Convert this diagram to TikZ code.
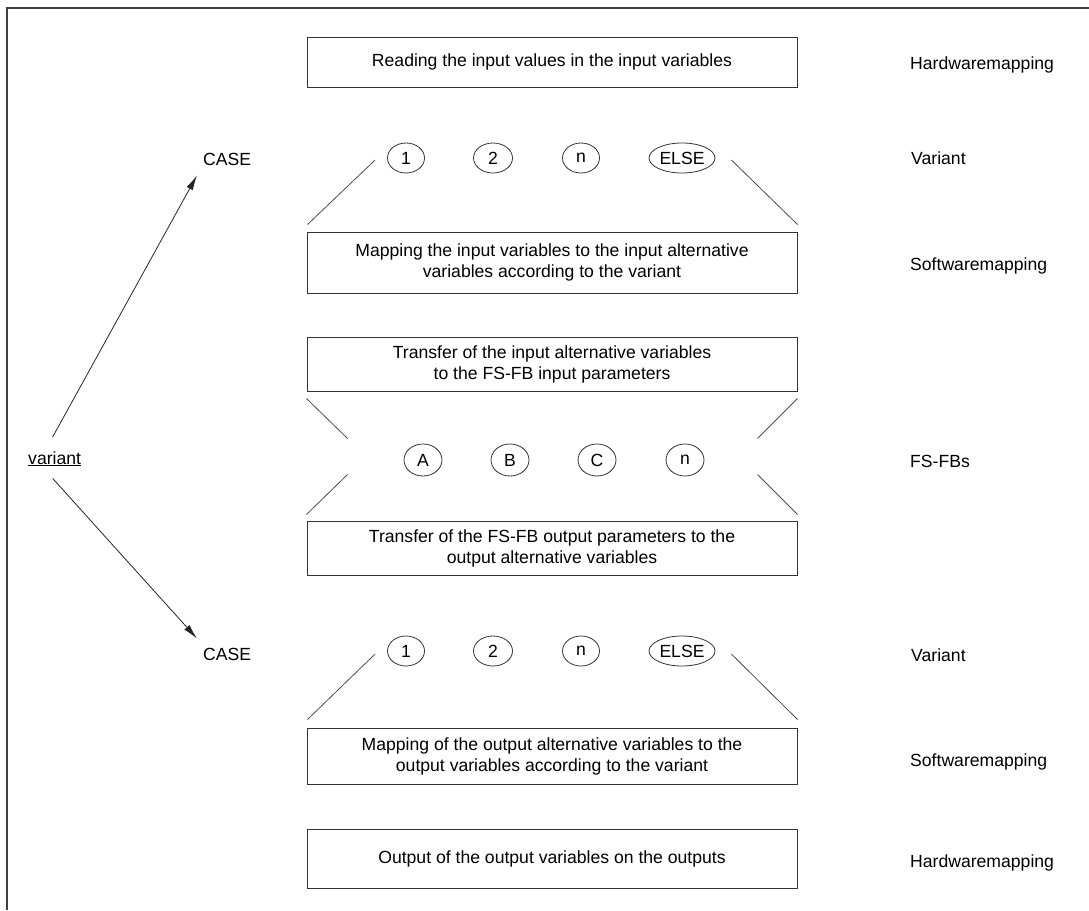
\documentclass[tikz,border=0pt]{standalone}
\usepackage{fontspec}
\setmainfont{Liberation Sans}
\usetikzlibrary{shapes.geometric,arrows.meta}

\begin{document}
\begin{tikzpicture}[x=1pt,y=-1pt,
  font=\fontsize{17.6}{21}\selectfont,
  frame/.style={line width=1.2pt,black!75},
  stage/.style={draw=black!80,line width=1pt,minimum width=490pt,inner sep=0pt,align=center},
  choice/.style={draw=black!80,line width=0.8pt,ellipse,inner sep=0pt,minimum width=37pt,minimum height=30pt},
  tag/.style={inner sep=0pt,anchor=base west},
  slant/.style={black!70,line width=0.8pt},
  arr/.style={black!85,line width=0.8pt,-{Latex[length=15pt,width=7pt]}}]
            \useasboundingbox (0,0) rectangle (1089,910);
            \draw[frame] (7,910) -- (7,8) -- (1089,8);
            \node[stage,minimum height=50pt] (readin) at (552,62) {Reading the input values in the input variables};
            \node[stage,minimum height=61pt] (inmap) at (552,262.5) {Mapping the input variables to the input alternative\\variables according to the variant};
            \node[stage,minimum height=54pt] (intrans) at (552,364) {Transfer of the input alternative variables\\to the FS-FB input parameters};
            \node[stage,minimum height=54pt] (outtrans) at (552,548) {Transfer of the FS-FB output parameters to the\\output alternative variables};
            \node[stage,minimum height=56pt] (outmap) at (552,756) {Mapping of the output alternative variables to the\\output variables according to the variant};
            \node[stage,minimum height=59pt] (writeout) at (552,858.5) {Output of the output variables on the outputs};
            \node[choice] (ina) at (406,158) {1};
            \node[choice,minimum width=39pt] (inb) at (493,158) {2};
            \node[choice] (inn) at (581,158) {n};
            \node[choice,minimum width=66pt] (inelse) at (682,158) {ELSE};
            \node[choice,minimum width=38pt,minimum height=32pt] (fba) at (423,460) {A};
            \node[choice,minimum width=38pt,minimum height=32pt] (fbb) at (510,460) {B};
            \node[choice,minimum width=38pt,minimum height=32pt] (fbc) at (597,460) {C};
            \node[choice,minimum width=38pt,minimum height=32pt] (fbn) at (685,460) {n};
            \node[choice] (outa) at (406,651) {1};
            \node[choice,minimum width=39pt] (outb) at (493,651) {2};
            \node[choice] (outn) at (581,651) {n};
            \node[choice,minimum width=66pt] (outelse) at (682,651) {ELSE};
            \node[tag] (hwin) at (910,69) {Hardwaremapping};
            \node[tag] (varin) at (911,164) {Variant};
            \node[tag] (swin) at (910,270) {Softwaremapping};
            \node[tag] (fsfb) at (910,467) {FS-FBs};
            \node[tag] (varout) at (911,661) {Variant};
            \node[tag] (swout) at (910,766) {Softwaremapping};
            \node[tag] (hwout) at (910,867) {Hardwaremapping};
            \node[tag] (caseup) at (203,165) {CASE};
            \node[tag] (casedown) at (203,660) {CASE};
            \node[tag] (variant) at (28,464) {\underline{variant}};
            \draw[slant] ([shift={(1,-7)}]inmap.north west) -- ([shift={(-12,2)}]ina.west);
            \draw[slant] ([shift={(16,2)}]inelse.east) -- ([shift={(0,-7)}]inmap.north east);
            \draw[slant] ([shift={(0,7)}]intrans.south west) -- ([shift={(41,47)}]intrans.south west);
            \draw[slant] ([shift={(0,7)}]intrans.south east) -- ([shift={(-40,47)}]intrans.south east);
            \draw[slant] ([shift={(41,-46)}]outtrans.north west) -- ([shift={(0,-6)}]outtrans.north west);
            \draw[slant] ([shift={(-40,-46)}]outtrans.north east) -- ([shift={(0,-6)}]outtrans.north east);
            \draw[slant] ([shift={(1,-8)}]outmap.north west) -- ([shift={(-12,3)}]outa.west);
            \draw[slant] ([shift={(16,3)}]outelse.east) -- ([shift={(0,-8)}]outmap.north east);
            \draw[arr] ([shift={(-2,-14)}]variant.north) -- ([shift={(-6,10)}]caseup.south west);
            \draw[arr] ([shift={(-2,12)}]variant.south) -- ([shift={(-6,-9)}]casedown.north west);
        \end{tikzpicture}
\end{document}
